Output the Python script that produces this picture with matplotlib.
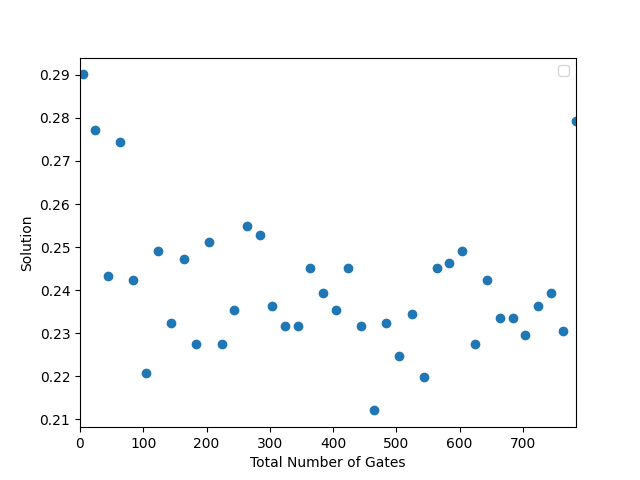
import matplotlib
matplotlib.use("Agg")
import matplotlib.pyplot as plt

# numero total de compuertas
gates = [4 + 20 * i for i in range(40)]

solucion = [
    0.2901, 0.2773, 0.2432, 0.2744, 0.2423, 0.2207, 0.2490, 0.2325, 0.2472, 0.2276,
    0.2511, 0.2276, 0.2353, 0.2549, 0.2529, 0.2364, 0.2316, 0.2316, 0.2451, 0.2393,
    0.2354, 0.2451, 0.2316, 0.2121, 0.2325, 0.2248, 0.2344, 0.2198, 0.2451, 0.2463,
    0.2491, 0.2276, 0.2423, 0.2335, 0.2335, 0.2296, 0.2364, 0.2393, 0.2305, 0.2793,
]

fig, ax = plt.subplots(figsize=(6.4, 4.8), dpi=100)
ax.scatter(gates, solucion)
ax.set_xlabel("Total Number of Gates")
ax.set_ylabel("Solution")
ax.set_xlim(0, max(gates))
ax.legend()
plt.savefig("out.png")
